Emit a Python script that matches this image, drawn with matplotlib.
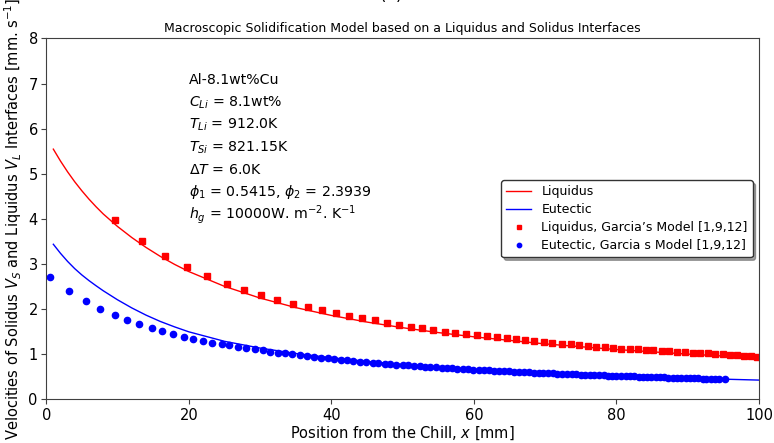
import matplotlib
matplotlib.use("Agg")
import matplotlib.pyplot as plt

# ---- data ----
# model curves (position x [mm], velocity [mm/s])
line_x = [1, 2, 3, 4, 5, 6, 7, 8, 10, 12, 14, 16, 18, 20, 25, 30, 35, 40, 45, 50, 55, 60, 70, 80, 90, 100]
liquidus_v = [5.548, 5.285, 5.045, 4.825, 4.625, 4.440, 4.270, 4.112, 3.835, 3.590, 3.370, 3.172,
              2.995, 2.836, 2.508, 2.248, 2.037, 1.863, 1.716, 1.591, 1.483, 1.389, 1.232, 1.107,
              1.006, 0.921]
eutectic_v = [3.440, 3.240, 3.060, 2.900, 2.760, 2.635, 2.520, 2.410, 2.210, 2.030, 1.870, 1.730,
              1.610, 1.500, 1.290, 1.140, 1.020, 0.925, 0.845, 0.777, 0.718, 0.668, 0.588, 0.524,
              0.472, 0.430]

# Garcia's model, liquidus (red squares)
garcia_liq_x = [9.65, 13.4, 16.7, 19.7, 22.6, 25.3, 27.8, 30.1, 32.4, 34.6, 36.7, 38.7, 40.6, 42.5,
                44.3, 46.1, 47.8, 49.5, 51.2, 52.7, 54.3, 55.9, 57.4, 58.9, 60.4, 61.9, 63.2, 64.6,
                65.9, 67.2, 68.5, 69.8, 71.0, 72.3, 73.6, 74.8, 76.0, 77.2, 78.4, 79.5, 80.7, 81.9,
                83.0, 84.1, 85.2, 86.4, 87.4, 88.5, 89.6, 90.7, 91.7, 92.8, 93.8, 94.9, 95.9, 96.9,
                97.9, 98.9, 99.7]
garcia_liq_v = [3.98, 3.52, 3.19, 2.93, 2.73, 2.56, 2.42, 2.31, 2.21, 2.12, 2.04, 1.98, 1.92, 1.86,
                1.80, 1.76, 1.70, 1.65, 1.61, 1.58, 1.54, 1.50, 1.47, 1.45, 1.42, 1.40, 1.38, 1.36,
                1.34, 1.32, 1.30, 1.28, 1.26, 1.24, 1.22, 1.20, 1.19, 1.17, 1.16, 1.15, 1.13, 1.12,
                1.11, 1.10, 1.09, 1.08, 1.07, 1.06, 1.05, 1.04, 1.03, 1.02, 1.01, 1.00, 0.99, 0.98,
                0.97, 0.96, 0.95]

# Garcia's model, eutectic (blue circles)
garcia_eut_x = [0.58, 3.17, 5.56, 7.58, 9.6, 11.4, 13.0, 14.8, 16.3, 17.8, 19.3, 20.6, 22.0, 23.3,
                24.6, 25.7, 26.9, 28.1, 29.3, 30.4, 31.4, 32.5, 33.5, 34.5, 35.6, 36.6,
                37.6, 38.5, 39.5, 40.4, 41.3, 42.2, 43.1, 44.0, 44.9, 45.8, 46.6, 47.5, 48.3, 49.1,
                50.0, 50.8, 51.6, 52.4, 53.2, 53.9, 54.7, 55.5, 56.2, 57.0, 57.7, 58.5, 59.2, 59.9,
                60.7, 61.4, 62.1, 62.8, 63.5, 64.2, 64.9, 65.6, 66.3, 67.0, 67.7, 68.4, 69.1, 69.7,
                70.4, 71.1, 71.7, 72.4, 73.0, 73.7, 74.3, 75.0, 75.6, 76.3, 76.9, 77.5, 78.2, 78.8,
                79.4, 80.0, 80.7, 81.3, 81.9, 82.5, 83.1, 83.7, 84.3, 84.9, 85.5, 86.1, 86.7, 87.3,
                87.9, 88.5, 89.1, 89.7, 90.3, 90.9, 91.5, 92.1, 92.6, 93.2, 93.8, 94.4, 95.2]
garcia_eut_v = [2.72, 2.41, 2.19, 2.00, 1.88, 1.77, 1.67, 1.58, 1.51, 1.45, 1.39, 1.34, 1.30, 1.26,
                1.23, 1.20, 1.17, 1.14, 1.11, 1.09, 1.06, 1.04, 1.02, 1.00, 0.98, 0.96,
                0.942, 0.926, 0.909, 0.894, 0.880, 0.867, 0.853, 0.840, 0.828, 0.816, 0.805, 0.794,
                0.784, 0.774, 0.763, 0.754, 0.745, 0.736, 0.728, 0.720, 0.712, 0.704, 0.697, 0.690,
                0.683, 0.676, 0.669, 0.663, 0.656, 0.650, 0.644, 0.639, 0.633, 0.627, 0.622, 0.617,
                0.611, 0.606, 0.601, 0.596, 0.591, 0.587, 0.582, 0.577, 0.573, 0.569, 0.565, 0.561,
                0.557, 0.552, 0.549, 0.545, 0.541, 0.538, 0.534, 0.530, 0.527, 0.524, 0.520, 0.517,
                0.513, 0.510, 0.507, 0.504, 0.501, 0.498, 0.495, 0.492, 0.489, 0.486, 0.484, 0.481,
                0.478, 0.475, 0.473, 0.470, 0.467, 0.465, 0.463, 0.460, 0.457, 0.455, 0.452]

info_lines = [
    "Al-8.1wt%Cu",
    "$C_{Li}$ = 8.1wt%",
    "$T_{Li}$ = 912.0K",
    "$T_{Si}$ = 821.15K",
    "$\\Delta T$ = 6.0K",
    "$\\phi_1$ = 0.5415, $\\phi_2$ = 2.3939",
    "$h_g$ = 10000W. m$^{-2}$. K$^{-1}$",
]
info_y = [7.0, 6.5, 6.0, 5.5, 5.0, 4.5, 4.0]

# ---- figure ----
fig = plt.figure(figsize=(7.74, 4.43), dpi=100)
ax = fig.add_axes([0.0597, 0.0982, 0.9209, 0.8149])

ax.plot(line_x, liquidus_v, color="#ff0000", lw=1.0, label="Liquidus")
ax.plot(line_x, eutectic_v, color="#0000ff", lw=1.0, label="Eutectic")
ax.plot(garcia_liq_x, garcia_liq_v, "s", color="#ff0000", ms=4.3, ls="none",
        label="Liquidus, Garcia\u2019s Model [1,9,12]")
ax.plot(garcia_eut_x, garcia_eut_v, "o", color="#0000ff", ms=4.5, ls="none",
        label="Eutectic, Garcia s Model [1,9,12]")

for s, yy in zip(info_lines, info_y):
    ax.text(20, yy, s, fontsize=10.2)

ax.set_xlim(0, 100)
ax.set_ylim(0, 8)
ax.set_xticks([0, 20, 40, 60, 80, 100])
ax.set_yticks(range(0, 9))
ax.tick_params(labelsize=10.5, length=3.5, color="0.25", pad=2.5)
for sp in ax.spines.values():
    sp.set_color("0.25")

ax.set_xlabel("Position from the Chill, $x$ [mm]", fontsize=10.5, labelpad=1)
ax.set_ylabel("Velocities of Solidus $V_S$ and Liquidus $V_L$ Interfaces [mm. s$^{-1}$]",
              fontsize=10.5, labelpad=3)
ax.set_title("Macroscopic Solidification Model based on a Liquidus and Solidus Interfaces",
             fontsize=9, pad=5)

leg = ax.legend(loc="center right", fontsize=9, markerscale=0.7, numpoints=1,
                labelspacing=0.4, fancybox=True, shadow=True, framealpha=1.0)
leg.get_frame().set_edgecolor("0.2")

fig.text(0.506, 1.0, "(b)", ha="center", va="baseline", fontsize=12)

fig.savefig("out.png", dpi=100)
